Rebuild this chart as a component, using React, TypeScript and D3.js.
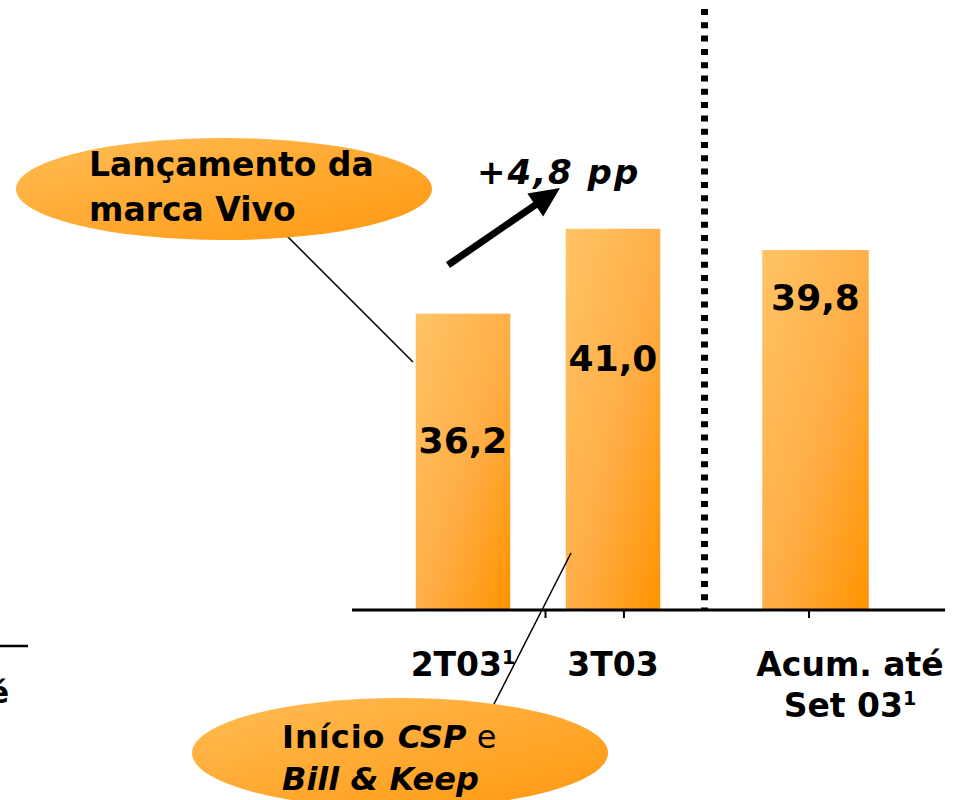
import React from "react";
import * as d3 from "d3";

// ---- data ----
const categories: string[][] = [["2T03¹"], ["3T03"], ["Acum. até", "Set 03¹"]];
const values: number[] = [36.2, 41.0, 39.8];
const valueLabels: string[] = ["36,2", "41,0", "39,8"];
const deltaLabel = "+4,8 pp";
const note1: string[] = ["Lançamento da", "marca Vivo"];

// ---- layout (slot units along x) ----
const slots = [0, 1, 2.35];
const labelSlots = [0, 1, 2.58];
const barWidthSlots = [0.63, 0.63, 0.71];
const tickSlots = [0.55, 1.073, 2.307];
const dividerSlot = 1.61;
const labelDrop = [139, 142, 60];

const W = 956;
const H = 800;
const FONT = "'DejaVu Sans', Verdana, sans-serif";

function withSup(s: string) {
  const parts = s.split("¹");
  if (parts.length === 1) return s;
  return (
    <>
      {parts[0]}
      <tspan fontSize="0.58em" dy="-0.62em">1</tspan>
    </>
  );
}

export default function App() {
  const x = d3.scaleLinear().domain([0, 1]).range([463, 613]);
  const y = d3.scaleLinear().domain([19.45, 41]).range([610, 228.8]);
  const base = y(19.45);

  // arrow geometry
  const ax0 = 448, ay0 = 265, ax1 = 560, ay1 = 188;
  const dx = ax1 - ax0, dy = ay1 - ay0;
  const len = Math.hypot(dx, dy);
  const ux = dx / len, uy = dy / len;
  const hl = 30, hw = 14;
  const bx = ax1 - ux * hl, by = ay1 - uy * hl;
  const headPath = d3.path();
  headPath.moveTo(ax1, ay1);
  headPath.lineTo(bx - uy * hw, by + ux * hw);
  headPath.lineTo(bx + uy * hw, by - ux * hw);
  headPath.closePath();

  return (
    <svg
      width={W}
      height={H}
      style={{ position: "absolute", left: 0, top: 0, background: "#fff" }}
      fontFamily={FONT}
    >
      <defs>
        <linearGradient id="barGrad" x1="0" y1="0" x2="1" y2="1">
          <stop offset="0%" stopColor="#FFC466" />
          <stop offset="55%" stopColor="#FFAD45" />
          <stop offset="100%" stopColor="#FF9300" />
        </linearGradient>
        <linearGradient id="ellGrad" x1="0" y1="0" x2="1" y2="1">
          <stop offset="0%" stopColor="#FFBC55" />
          <stop offset="100%" stopColor="#FF980F" />
        </linearGradient>
      </defs>
      <rect width={W} height={H} fill="#fff" />

      {/* cut-off fragments at left */}
      <line x1={0} x2={28} y1={646} y2={646} stroke="#000" strokeWidth={2.5} />
      <text x={9} y={703} textAnchor="end" fontSize={30} fontWeight="bold">é</text>

      {/* bars */}
      {values.map((v, i) => {
        const w = barWidthSlots[i] * (x(1) - x(0));
        const cx = x(slots[i]);
        return (
          <g key={i}>
            <rect x={cx - w / 2} y={y(v)} width={w} height={base - y(v)} fill="url(#barGrad)" />
            <text
              x={cx}
              y={y(v) + labelDrop[i]}
              textAnchor="middle"
              fontSize={36}
              fontWeight="bold"
              fill="#000"
            >
              {valueLabels[i]}
            </text>
          </g>
        );
      })}

      {/* axis */}
      <line x1={352} x2={945} y1={base} y2={base} stroke="#000" strokeWidth={3} />
      {tickSlots.map((t, i) => (
        <line key={i} x1={x(t)} x2={x(t)} y1={base} y2={base + 8} stroke="#000" strokeWidth={2} />
      ))}

      {/* divider */}
      <line
        x1={x(dividerSlot)}
        x2={x(dividerSlot)}
        y1={9}
        y2={base}
        stroke="#000"
        strokeWidth={7}
        strokeDasharray="6 7.3"
      />

      {/* category labels */}
      {categories.map((lines, i) =>
        lines.map((l, j) => (
          <text
            key={i + "-" + j}
            x={x(labelSlots[i])}
            y={676 + j * 41}
            textAnchor="middle"
            fontSize={33}
            fontWeight="bold"
            fill="#000"
          >
            {withSup(l)}
          </text>
        ))
      )}

      {/* delta arrow */}
      <line x1={ax0} y1={ay0} x2={bx + ux * 2} y2={by + uy * 2} stroke="#000" strokeWidth={7} />
      <path d={headPath.toString()} fill="#000" />
      <text
        x={477}
        y={184}
        fontSize={34}
        fontWeight="bold"
        fontStyle="italic"
        letterSpacing={2}
        fill="#000"
      >
        {deltaLabel}
      </text>

      {/* note 1 */}
      <line x1={285} y1={234} x2={413} y2={362} stroke="#000" strokeWidth={1.5} />
      <ellipse cx={224} cy={189} rx={208} ry={51} fill="url(#ellGrad)" />
      <text fontSize={33} fontWeight="bold" fill="#000">
        {note1.map((l, j) => (
          <tspan key={j} x={89} y={176 + j * 45}>{l}</tspan>
        ))}
      </text>

      {/* note 2 */}
      <line x1={571} y1={553} x2={492} y2={708} stroke="#000" strokeWidth={1.5} />
      <ellipse cx={400} cy={753} rx={208} ry={55} fill="url(#ellGrad)" />
      <text fontSize={32} fill="#000">
        <tspan x={282} y={748} fontWeight="bold" letterSpacing={1}>Início </tspan>
        <tspan fontWeight="bold" fontStyle="italic">CSP</tspan>
        <tspan> e</tspan>
        <tspan x={282} y={790} fontWeight="bold" fontStyle="italic">Bill &amp; Keep</tspan>
      </text>
    </svg>
  );
}
